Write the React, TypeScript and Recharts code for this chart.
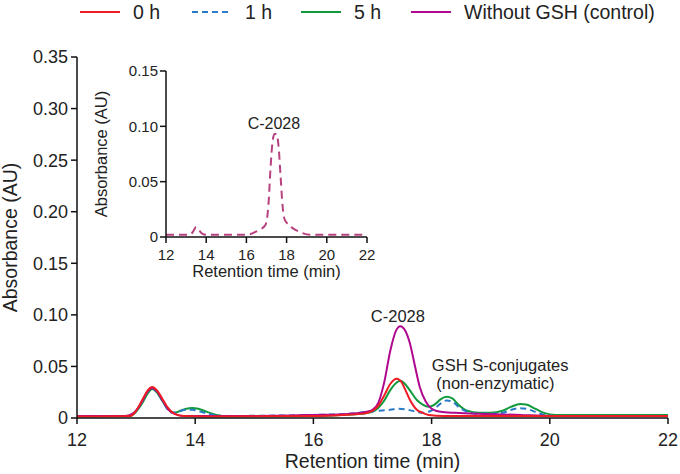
import React from 'react';
import {
  LineChart,
  Line,
  XAxis,
  YAxis,
  ReferenceDot,
} from 'recharts';

type Pt = { t: number; v: number };
const pts = (rows: number[][]): Pt[] => rows.map(([t, v]) => ({ t, v }));

// retention time (min) / absorbance (AU)
const hour0 = pts([
  [12, 0.0015], [12.9, 0.002], [13.0, 0.007], [13.1, 0.017], [13.2, 0.027], [13.27, 0.03],
  [13.35, 0.027], [13.45, 0.018], [13.55, 0.009], [13.65, 0.004], [13.8, 0.002], [14.5, 0.0015],
  [16, 0.002], [16.5, 0.003], [16.8, 0.004], [17.0, 0.007], [17.1, 0.012], [17.2, 0.022],
  [17.3, 0.033], [17.41, 0.038], [17.5, 0.034], [17.55, 0.028], [17.63, 0.018], [17.75, 0.008],
  [17.85, 0.005], [17.95, 0.003], [18.2, 0.002], [22, 0.002],
]);

const hour1 = pts([
  [12, 0.002], [12.9, 0.002], [13.0, 0.007], [13.1, 0.016], [13.2, 0.026], [13.27, 0.029],
  [13.35, 0.026], [13.45, 0.016], [13.55, 0.007], [13.62, 0.005], [13.7, 0.006], [13.85, 0.008],
  [13.95, 0.008], [14.1, 0.006], [14.3, 0.003], [14.5, 0.002], [16, 0.003], [16.6, 0.004],
  [16.9, 0.006], [17.1, 0.007], [17.3, 0.008], [17.45, 0.009], [17.6, 0.008], [17.75, 0.006],
  [17.85, 0.005], [17.95, 0.006], [18.05, 0.009], [18.15, 0.014], [18.25, 0.017], [18.35, 0.016],
  [18.45, 0.011], [18.6, 0.006], [18.8, 0.004], [19.0, 0.004], [19.2, 0.005], [19.35, 0.008],
  [19.5, 0.0095], [19.6, 0.009], [19.75, 0.006], [19.9, 0.003], [20.1, 0.002], [22, 0.002],
]);

const hour5 = pts([
  [12, 0.002], [12.9, 0.002], [13.0, 0.006], [13.1, 0.014], [13.2, 0.024], [13.27, 0.028],
  [13.35, 0.025], [13.45, 0.016], [13.55, 0.008], [13.65, 0.005], [13.75, 0.007], [13.85, 0.009],
  [13.95, 0.0097], [14.05, 0.009], [14.15, 0.007], [14.3, 0.004], [14.5, 0.002], [16, 0.002],
  [16.5, 0.003], [16.8, 0.004], [17.0, 0.006], [17.1, 0.01], [17.2, 0.017], [17.3, 0.027],
  [17.4, 0.034], [17.47, 0.036], [17.55, 0.033], [17.63, 0.027], [17.75, 0.0175], [17.85, 0.013],
  [17.95, 0.011], [18.05, 0.013], [18.15, 0.018], [18.25, 0.0205], [18.35, 0.019], [18.45, 0.013],
  [18.6, 0.007], [18.8, 0.005], [19.0, 0.005], [19.2, 0.007], [19.35, 0.011], [19.5, 0.0135],
  [19.6, 0.013], [19.75, 0.009], [19.9, 0.005], [20.1, 0.003], [22, 0.003],
]);

const control = pts([
  [12, 0.002], [12.8, 0.002], [12.9, 0.003], [13.0, 0.007], [13.1, 0.016], [13.2, 0.026],
  [13.27, 0.029], [13.35, 0.026], [13.45, 0.017], [13.55, 0.008], [13.65, 0.004], [13.8, 0.002],
  [15, 0.002], [16, 0.003], [16.6, 0.004], [16.9, 0.006], [17.0, 0.008], [17.1, 0.015],
  [17.2, 0.035], [17.3, 0.065], [17.4, 0.085], [17.47, 0.089], [17.55, 0.085], [17.63, 0.073],
  [17.72, 0.05], [17.8, 0.03], [17.9, 0.016], [18.0, 0.009], [18.15, 0.006], [18.4, 0.005],
  [18.8, 0.004], [19.5, 0.003], [20, 0.002], [22, 0.002],
]);

// inset: control alone
const insetControl = pts([
  [12, 0.002], [13.2, 0.002], [13.35, 0.005], [13.5, 0.009], [13.65, 0.006], [13.8, 0.003],
  [14, 0.002], [16, 0.002], [16.5, 0.005], [16.95, 0.011], [17.1, 0.03], [17.2, 0.062],
  [17.3, 0.086], [17.4, 0.093], [17.5, 0.093], [17.6, 0.082], [17.7, 0.055], [17.8, 0.028],
  [17.9, 0.016], [18.0, 0.013], [18.3, 0.008], [18.6, 0.005], [19.2, 0.002], [22, 0.002],
]);

const xTicks = [12, 14, 16, 18, 20, 22];
const yTicksMain = [0, 0.05, 0.1, 0.15, 0.2, 0.25, 0.3, 0.35];
const yTicksInset = [0, 0.05, 0.1, 0.15];

const series = [
  { name: '0 h', color: '#ee1c24', dash: undefined as string | undefined },
  { name: '1 h', color: '#2a7bc8', dash: '6 4' },
  { name: '5 h', color: '#109a3c', dash: undefined },
  { name: 'Without GSH (control)', color: '#b0088e', dash: undefined },
];

const FONT = '"Liberation Sans", Arial, Helvetica, sans-serif';
const fmtY = (v: number) => (v === 0 ? '0' : v.toFixed(2));

function LegendRow() {
  const items = [
    { left: 80, ...series[0] },
    { left: 192, ...series[1] },
    { left: 301, ...series[2] },
    { left: 411, ...series[3] },
  ];
  return (
    <>
      {items.map((it) => (
        <div
          key={it.name}
          style={{ position: 'absolute', left: it.left, top: 0, height: 24, display: 'flex', alignItems: 'center' }}
        >
          <svg width={40} height={6}>
            <line x1={0} y1={3} x2={40} y2={3} stroke={it.color} strokeWidth={2} strokeDasharray={it.dash} />
          </svg>
          <span style={{ marginLeft: 13, fontSize: 19.5, color: '#222', whiteSpace: 'nowrap' }}>{it.name}</span>
        </div>
      ))}
    </>
  );
}

export default function App() {
  const axisStyle = { stroke: '#111', strokeWidth: 1.5 };
  return (
    <div style={{ position: 'absolute', left: 0, top: 0, width: 680, height: 474, background: '#fff', fontFamily: FONT }}>
      <LegendRow />
      <div style={{ position: 'absolute', left: 0, top: 0 }}>
        <LineChart width={680} height={474} margin={{ top: 57, right: 12, left: 0, bottom: 0 }}>
          <XAxis
            dataKey="t"
            type="number"
            domain={[12, 22]}
            ticks={xTicks}
            height={56}
            axisLine={axisStyle}
            tickLine={axisStyle}
            tickSize={6}
            tickMargin={9}
            tick={{ fill: '#222', fontSize: 18, fontFamily: FONT }}
            label={{ value: 'Retention time (min)', position: 'insideBottom', offset: 6, fill: '#222', fontSize: 19.5, fontFamily: FONT }}
          />
          <YAxis
            type="number"
            domain={[0, 0.35]}
            ticks={yTicksMain}
            width={77}
            axisLine={axisStyle}
            tickLine={axisStyle}
            tickSize={6}
            tickMargin={3}
            tickFormatter={fmtY}
            tick={{ fill: '#222', fontSize: 18, fontFamily: FONT }}
            label={{ value: 'Absorbance (AU)', angle: -90, position: 'insideLeft', offset: 10, fill: '#222', fontSize: 19.5, fontFamily: FONT, style: { textAnchor: 'middle' } }}
          />
          <Line data={hour5} dataKey="v" type="monotone" stroke={series[2].color} strokeWidth={2} dot={false} isAnimationActive={false} />
          <Line data={hour1} dataKey="v" type="monotone" stroke={series[1].color} strokeWidth={2} strokeDasharray="6 4" dot={false} isAnimationActive={false} />
          <Line data={control} dataKey="v" type="monotone" stroke={series[3].color} strokeWidth={2} dot={false} isAnimationActive={false} />
          <Line data={hour0} dataKey="v" type="monotone" stroke={series[0].color} strokeWidth={2} dot={false} isAnimationActive={false} />
          <ReferenceDot x={17.43} y={0.0932} r={0} fill="none" stroke="none"
            label={{ value: 'C-2028', position: 'top', offset: 0, fill: '#222', fontSize: 16.5, fontFamily: FONT }} />
          <ReferenceDot x={19.16} y={0.0455} r={0} fill="none" stroke="none"
            label={{ value: 'GSH S-conjugates', position: 'top', offset: 0, fill: '#222', fontSize: 16.5, fontFamily: FONT }} />
          <ReferenceDot x={19.08} y={0.0283} r={0} fill="none" stroke="none"
            label={{ value: '(non-enzymatic)', position: 'top', offset: 0, fill: '#222', fontSize: 16.5, fontFamily: FONT }} />
        </LineChart>
      </div>
      <div style={{ position: 'absolute', left: 80, top: 40 }}>
        <LineChart width={300} height={250} margin={{ top: 31, right: 13, left: 0, bottom: 0 }}>
          <XAxis
            dataKey="t"
            type="number"
            domain={[12, 22]}
            ticks={xTicks}
            height={53}
            axisLine={axisStyle}
            tickLine={axisStyle}
            tickSize={6}
            tickMargin={6}
            tick={{ fill: '#222', fontSize: 15, fontFamily: FONT }}
            label={{ value: 'Retention time (min)', position: 'insideBottom', offset: 13, fill: '#222', fontSize: 16.5, fontFamily: FONT }}
          />
          <YAxis
            type="number"
            domain={[0, 0.15]}
            ticks={yTicksInset}
            width={86}
            axisLine={axisStyle}
            tickLine={axisStyle}
            tickSize={6}
            tickMargin={2}
            tickFormatter={fmtY}
            tick={{ fill: '#222', fontSize: 15, fontFamily: FONT }}
            label={{ value: 'Absorbance (AU)', angle: -90, position: 'insideLeft', offset: 21, fill: '#222', fontSize: 16.5, fontFamily: FONT, style: { textAnchor: 'middle' } }}
          />
          <Line data={insetControl} dataKey="v" type="monotone" stroke="#b8417f" strokeWidth={2} strokeDasharray="8 5" dot={false} isAnimationActive={false} />
          <ReferenceDot x={17.37} y={0.0978} r={0} fill="none" stroke="none"
            label={{ value: 'C-2028', position: 'top', offset: 0, fill: '#222', fontSize: 16, fontFamily: FONT }} />
        </LineChart>
      </div>
    </div>
  );
}
